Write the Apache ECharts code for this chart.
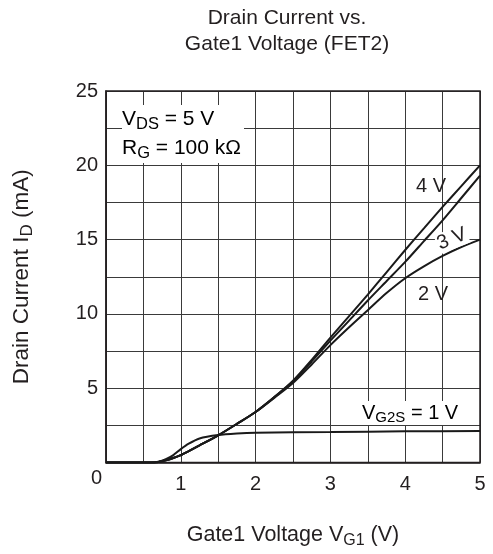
<!DOCTYPE html>
<html>
<head>
<meta charset="utf-8">
<script src="https://cdn.jsdelivr.net/npm/echarts@6/dist/echarts.min.js"></script>
<style>
  html, body { margin: 0; padding: 0; background: #fff; }
  #chart { width: 493px; height: 554px; }
</style>
</head>
<body>
<div id="chart"></div>
<script>
// Gate1 voltage V_G1 (V) sample points for the 2 V / 3 V / 4 V curves
const vg1Main = [0, 0.6, 0.7, 0.8, 0.9, 1.0, 1.1, 1.25, 1.5, 1.75, 2.0, 2.25, 2.5, 2.75, 3.0, 3.25, 3.5, 3.75, 4.0, 4.25, 4.5, 4.75, 5.0];
// Drain current I_D (mA) for V_G2S = 4 V, 3 V, 2 V
const id4V = [0, 0, 0.04, 0.15, 0.3, 0.5, 0.75, 1.15, 1.83, 2.6, 3.4, 4.4, 5.5, 6.9, 8.4, 9.85, 11.3, 12.8, 14.3, 15.75, 17.2, 18.6, 20.0];
const id3V = [0, 0, 0.04, 0.15, 0.3, 0.5, 0.75, 1.15, 1.83, 2.6, 3.4, 4.4, 5.45, 6.8, 8.2, 9.55, 10.9, 12.2, 13.5, 14.9, 16.3, 17.8, 19.3];
const id2V = [0, 0, 0.04, 0.15, 0.3, 0.5, 0.75, 1.15, 1.83, 2.6, 3.4, 4.35, 5.35, 6.6, 7.9, 9.1, 10.25, 11.4, 12.4, 13.2, 13.9, 14.5, 15.0];
// V_G2S = 1 V curve
const vg1OneV = [0, 0.6, 0.7, 0.8, 0.9, 1.0, 1.1, 1.25, 1.5, 1.75, 2.0, 3.0, 4.0, 5.0];
const id1V = [0, 0, 0.05, 0.22, 0.5, 0.9, 1.25, 1.62, 1.85, 1.95, 2.0, 2.05, 2.1, 2.12];

// Axis tick labels
const xTickLabels = ['1', '2', '3', '4', '5'];
const yTickLabels = ['5', '10', '15', '20', '25'];

const FONT = 'Liberation Sans, Arial, sans-serif';
const INK = '#231f20';
const FS = 20;

function pairs(xs, ys) { return xs.map((x, i) => [x, ys[i]]); }

function subStyle(size, subSize, lh, drop) {
  return {
    n: { fontSize: size, fontFamily: FONT, color: INK, lineHeight: lh },
    s: { fontSize: subSize, fontFamily: FONT, color: INK, lineHeight: lh, padding: [drop, 0, 0, 0] }
  };
}

function curve(name, data) {
  return {
    name: name, type: 'line', data: data, smooth: 0.25, showSymbol: false,
    lineStyle: { color: '#1a1a1a', width: 2 }, silent: true, z: 5
  };
}

const chart = echarts.init(document.getElementById('chart'), null, { renderer: 'canvas' });
chart.setOption({
  animation: false,
  backgroundColor: '#fff',
  grid: { left: 106, right: 13, top: 91, bottom: 90, show: true, borderColor: INK, borderWidth: 1.5, backgroundColor: 'transparent', z: 1 },
  xAxis: {
    type: 'value', min: 0, max: 5, interval: 0.5,
    axisLine: { show: true, lineStyle: { color: INK, width: 1.5 } },
    axisTick: { show: false },
    splitLine: { show: true, lineStyle: { color: '#3a3a3a', width: 1 } },
    axisLabel: {
      margin: 12, fontSize: FS, fontFamily: FONT, color: INK,
      formatter: v => {
        const s = String(v);
        return xTickLabels.indexOf(s) >= 0 ? s : '';
      }
    },
    name: '{n|Gate1 Voltage V}{s|G1}{n| (V)}',
    nameLocation: 'middle', nameGap: 60,
    nameTextStyle: { rich: subStyle(21.5, 16, 26, 11) }
  },
  yAxis: {
    type: 'value', min: 0, max: 25, interval: 2.5,
    axisLine: { show: true, lineStyle: { color: INK, width: 1.5 } },
    axisTick: { show: false },
    splitLine: { show: true, lineStyle: { color: '#3a3a3a', width: 1 } },
    axisLabel: {
      margin: 4, fontSize: FS, fontFamily: FONT, color: INK,
      formatter: v => {
        const s = String(v);
        if (v === 0) return '{z|0}';
        return yTickLabels.indexOf(s) >= 0 ? '{a|' + s + '}' : '';
      },
      rich: {
        a: { fontSize: FS, fontFamily: FONT, color: INK, padding: [0, 4, 0, 0] },
        z: { fontSize: FS, fontFamily: FONT, color: INK, padding: [31, 0, 0, 0] }
      }
    },
    name: '{n|Drain Current I}{s|D}{n| (mA)}',
    nameLocation: 'middle', nameGap: 71, nameRotate: 90,
    nameTextStyle: { rich: subStyle(22.5, 17, 26, 11) }
  },
  graphic: [
    {
      type: 'text', x: 287, y: 5, z: 10,
      style: { text: 'Drain Current vs.\nGate1 Voltage (FET2)', align: 'center', verticalAlign: 'top', fontSize: 21, lineHeight: 26, fontFamily: FONT, fill: INK }
    },
    {
      type: 'text', x: 122, y: 105, z: 10,
      style: {
        text: '{n|V}{s|DS}{n| = 5 V}\n{n|R}{s|G}{n| = 100 kΩ}',
        rich: subStyle(21, 16.5, 29, 10),
        backgroundColor: '#fff', padding: [0, 3, 0, 0]
      }
    },
    {
      type: 'text', x: 431, y: 186, z: 10,
      style: { text: '4 V', fontSize: FS, fontFamily: FONT, fill: INK, align: 'center', verticalAlign: 'middle' }
    },
    {
      type: 'text', x: 452, y: 239, rotation: 0.38, z: 10,
      style: { text: '3 V', fontSize: FS, fontFamily: FONT, fill: INK, align: 'center', verticalAlign: 'middle', backgroundColor: '#fff', padding: [0, 1, 0, 1] }
    },
    {
      type: 'text', x: 433, y: 294, z: 10,
      style: { text: '2 V', fontSize: FS, fontFamily: FONT, fill: INK, align: 'center', verticalAlign: 'middle' }
    },
    {
      type: 'text', x: 362, y: 401, z: 10,
      style: { text: '{n|V}{s|G2S}{n| = 1 V}', rich: subStyle(FS, 15, 24, 10), backgroundColor: '#fff' }
    }
  ],
  series: [
    curve('4 V', pairs(vg1Main, id4V)),
    curve('3 V', pairs(vg1Main, id3V)),
    curve('2 V', pairs(vg1Main, id2V)),
    curve('1 V', pairs(vg1OneV, id1V))
  ]
});
</script>
</body>
</html>
